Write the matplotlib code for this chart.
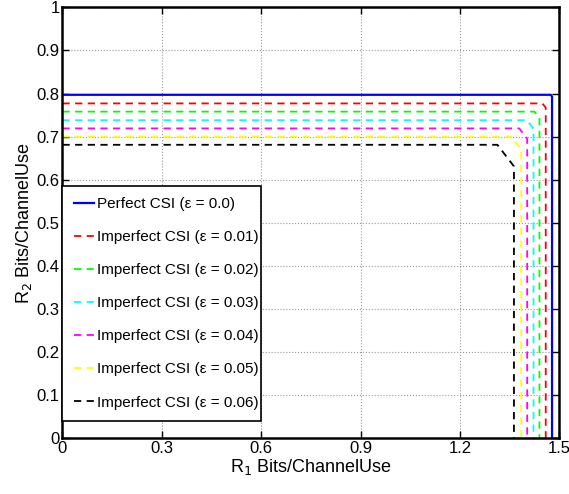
import numpy as np
import matplotlib.pyplot as plt

plt.rcParams['font.family'] = ['Liberation Sans', 'DejaVu Sans']

# max rates per curve
labels = ['Perfect CSI (\u03b5 = 0.0)',
          'Imperfect CSI (\u03b5 = 0.01)',
          'Imperfect CSI (\u03b5 = 0.02)',
          'Imperfect CSI (\u03b5 = 0.03)',
          'Imperfect CSI (\u03b5 = 0.04)',
          'Imperfect CSI (\u03b5 = 0.05)',
          'Imperfect CSI (\u03b5 = 0.06)']
r1_max = [1.478, 1.459, 1.440, 1.422, 1.403, 1.385, 1.363]
r2_max = [0.797, 0.777, 0.758, 0.738, 0.719, 0.700, 0.681]
# sum-rate cut at the corner: R1 + R2 <= r1_max + r2_max - cut
cut = [0.004, 0.010, 0.015, 0.020, 0.024, 0.030, 0.050]
colors = ['#0000ff', '#ff0000', '#00ff00', '#00ffff', '#ff00ff', '#ffff00', '#000000']
styles = ['-', '--', '--', '--', '--', '--', '--']

xticks = [0, 0.3, 0.6, 0.9, 1.2, 1.5]
yticks = [0, 0.1, 0.2, 0.3, 0.4, 0.5, 0.6, 0.7, 0.8, 0.9, 1]

fig = plt.figure(figsize=(5.69, 4.94), dpi=100)
ax = fig.add_axes([0.1098, 0.1128, 0.8732, 0.8724])

for r1, r2, c, col, ls, lab in zip(r1_max, r2_max, cut, colors, styles, labels):
    s = r1 + r2 - c
    xs = [0, s - r2, r1, r1]
    ys = [r2, r2, s - r1, 0]
    ax.plot(xs, ys, color=col, linestyle=ls, lw=1.6 if ls == '-' else 1.3,
            dashes=(4, 3) if ls == '--' else (None, None), label=lab)

ax.set_xlim(0, 1.5)
ax.set_ylim(0, 1)
ax.set_xticks(xticks)
ax.set_xticklabels(['0', '0.3', '0.6', '0.9', '1.2', '1.5'])
ax.set_yticks(yticks)
ax.set_yticklabels(['0'] + ['%.1f' % v for v in yticks[1:-1]] + ['1'])
ax.tick_params(direction='in', top=True, right=True, labelsize=12, length=5, width=1, pad=2)
ax.grid(True, linestyle=':', color='#999999', linewidth=0.8)
for sp in ax.spines.values():
    sp.set_linewidth(1.8)

ax.set_xlabel('R$_1$ Bits/ChannelUse', fontsize=13, labelpad=1)
ax.set_ylabel('R$_2$ Bits/ChannelUse', fontsize=13, labelpad=2)

leg = ax.legend(loc='lower left', bbox_to_anchor=(0.0, 0.04, 0.4, 0.55), mode='expand',
                fontsize=11, frameon=True, fancybox=False, edgecolor='black',
                handlelength=1.3, handletextpad=0.2, labelspacing=1.25,
                borderaxespad=0, borderpad=0.75, handleheight=0.7)
leg.get_frame().set_linewidth(1.2)
leg.get_frame().set_alpha(1)

fig.savefig('out.png', dpi=100)
